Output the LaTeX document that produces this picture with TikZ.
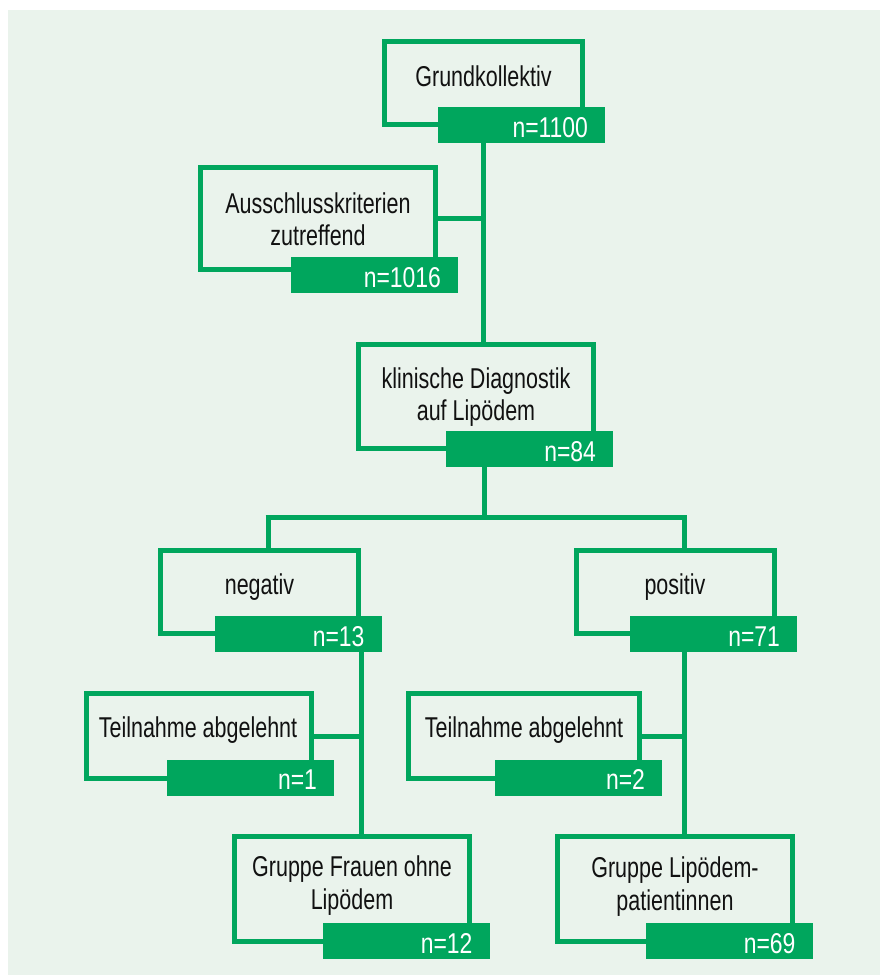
\documentclass[tikz,border=0pt]{standalone}
\usepackage{fontspec}
\setmainfont{Liberation Sans}[FakeStretch=0.75]
\newfontfamily\numfont{Liberation Sans}[FakeStretch=0.80]
\usetikzlibrary{calc}
\definecolor{grn}{HTML}{00A65D}
\definecolor{bgc}{HTML}{EAF3EC}
\definecolor{txt}{HTML}{111111}
\begin{document}
\begin{tikzpicture}[x=0.75pt,y=-0.75pt,
  obox/.style={draw=grn, line width=3.75pt, fill=bgc, inner sep=0pt},
  lbox/.style={fill=grn, inner sep=0pt, minimum width=125.25pt, minimum height=27pt},
  lbl/.style={anchor=base, inner sep=0pt, text=txt, font=\fontsize{21.5}{26}\selectfont},
  num/.style={anchor=base east, inner sep=0pt, text=white, font=\numfont\fontsize{21.5}{26}\selectfont},
  conn/.style={draw=grn, line width=3.75pt}]
\useasboundingbox (0,0) rectangle (880,975);
\fill[bgc] (8,10) rectangle (880,975);

% outline boxes
\node[obox, minimum width=148.5pt, minimum height=62.25pt] (o1) at (483.5,83) {};
\node[obox, minimum width=176.25pt, minimum height=76.5pt] (o2) at (318,218.5) {};
\node[obox, minimum width=176.25pt, minimum height=78pt] (o3) at (476,396.5) {};
\node[obox, minimum width=148.5pt, minimum height=62.25pt] (o4) at (259.5,592) {};
\node[obox, minimum width=148.5pt, minimum height=62.25pt] (o5) at (675,592) {};
\node[obox, minimum width=168.75pt, minimum height=63.75pt] (o6) at (199,736) {};
\node[obox, minimum width=173.25pt, minimum height=63.75pt] (o7) at (524,736) {};
\node[obox, minimum width=176.25pt, minimum height=78.75pt] (o8) at (352,889) {};
\node[obox, minimum width=176.25pt, minimum height=78.75pt] (o9) at (675,889) {};

% label boxes
\node[lbox] (l1) at (521.5,125) {};
\node[lbox] (l2) at (374.5,275) {};
\node[lbox] (l3) at (529.5,449) {};
\node[lbox] (l4) at (298,634) {};
\node[lbox] (l5) at (713.5,634) {};
\node[lbox] (l6) at (250.5,777.5) {};
\node[lbox] (l7) at (578.5,777.5) {};
\node[lbox] (l8) at (406,941) {};
\node[lbox] (l9) at (729,941) {};

% junction coordinates
\coordinate (jC) at (484,517);
\coordinate (jL) at (268,517);
\coordinate (jR) at (684,517);

% connectors
\draw[conn] (o1.south) -- (o1.south |- o3.north);
\draw[conn] (o2.east) -- (o2.east -| o1.south);
\draw[conn] (jC |- l3.south) -- (jC);
\draw[conn] ([xshift=-1.875pt]jL) -- ([xshift=1.875pt]jR);
\draw[conn] (jL) -- (jL |- o4.north);
\draw[conn] (jR) -- (jR |- o5.north);
\draw[conn] (o4.east |- l4.south) -- (o4.east |- o8.north);
\draw[conn] (o6.east) -- (o6.east -| o4.east);
\draw[conn] (jR |- l5.south) -- (jR |- o9.north);
\draw[conn] (o7.east) -- (o7.east -| jR);

% texts
\node[lbl] (t1) at (483.5,86) {Grundkollektiv};
\node[lbl] (t2a) at (318,213) {Ausschlusskriterien};
\node[lbl] (t2b) at (318,245) {zutreffend};
\node[lbl] (t3a) at (476,388) {klinische Diagnostik};
\node[lbl] (t3b) at (476,420) {auf Lipödem};
\node[lbl] (t4) at (259.5,594) {negativ};
\node[lbl] (t5) at (675,594) {positiv};
\node[lbl] (t6) at (198,737) {Teilnahme abgelehnt};
\node[lbl] (t7) at (524,737) {Teilnahme abgelehnt};
\node[lbl] (t8a) at (352,876) {Gruppe Frauen ohne};
\node[lbl] (t8b) at (352,909) {Lipödem};
\node[lbl] (t9a) at (675,877) {Gruppe Lipödem-};
\node[lbl] (t9b) at (675,910) {patientinnen};

% numbers
\node[num] (n1) at ($(l1.south east)+(-17,-6)$) {n=1100};
\node[num] (n2) at ($(l2.south east)+(-17,-6)$) {n=1016};
\node[num] (n3) at ($(l3.south east)+(-17,-6)$) {n=84};
\node[num] (n4) at ($(l4.south east)+(-17,-6)$) {n=13};
\node[num] (n5) at ($(l5.south east)+(-17,-6)$) {n=71};
\node[num] (n6) at ($(l6.south east)+(-17,-6)$) {n=1};
\node[num] (n7) at ($(l7.south east)+(-17,-6)$) {n=2};
\node[num] (n8) at ($(l8.south east)+(-17,-6)$) {n=12};
\node[num] (n9) at ($(l9.south east)+(-17,-6)$) {n=69};
\end{tikzpicture}
\end{document}
